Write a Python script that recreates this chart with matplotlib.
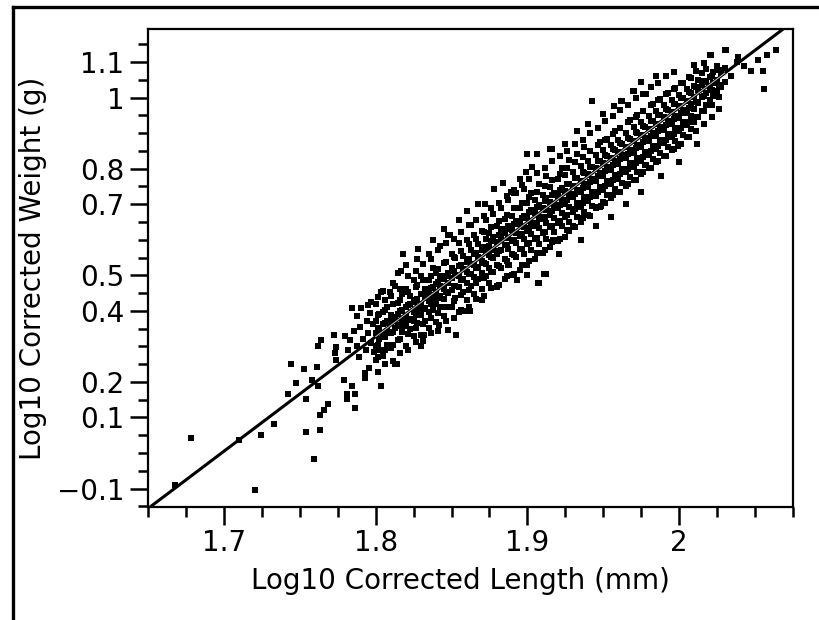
import matplotlib
matplotlib.use("Agg")
import matplotlib.pyplot as plt
from matplotlib.lines import Line2D
from matplotlib.ticker import MultipleLocator, FixedLocator

# fit line (log10 weight = a + b * log10 length)
fit_intercept = -5.476
fit_slope = 3.224

x_ticks = [1.7, 1.8, 1.9, 2.0]
x_labels = ["1.7", "1.8", "1.9", "2"]
y_ticks = [-0.1, 0.1, 0.2, 0.4, 0.5, 0.7, 0.8, 1.0, 1.1]
y_labels = ["\u22120.1", "0.1", "0.2", "0.4", "0.5", "0.7", "0.8", "1", "1.1"]

# sparse points at the small end
sparse_low = [
    (1.6676, -0.091), (1.6781, 0.043), (1.7098, 0.036), (1.7207, -0.104), (1.7247, 0.052),
    (1.7331, 0.082), (1.7423, 0.167), (1.7441, 0.249), (1.7478, 0.196), (1.7528, 0.235),
    (1.7544, 0.151), (1.7544, 0.059), (1.7581, 0.205), (1.7594, -0.016), (1.7616, 0.241),
    (1.7621, 0.188), (1.7621, 0.300), (1.7632, 0.106), (1.7634, 0.066), (1.7638, 0.317),
    (1.7660, 0.121), (1.7687, 0.137), (1.7724, 0.333), (1.7731, 0.282), (1.7741, 0.299),
    (1.7741, 0.263), (1.7792, 0.205), (1.7814, 0.165), (1.7814, 0.151), (1.7845, 0.188),
    (1.7862, 0.165), (1.7862, 0.127), (1.7845, 0.408), (1.7906, 0.408), (1.7950, 0.417),
    (1.7968, 0.424), (1.7928, 0.226), (1.7959, 0.240), (1.7928, 0.212),
    (1.7800, 0.330), (1.7830, 0.318), (1.7860, 0.342), (1.7880, 0.300), (1.7900, 0.355),
    (1.7915, 0.322), (1.7935, 0.290), (1.7950, 0.338), (1.7970, 0.310), (1.7985, 0.362),
    (1.7890, 0.270), (1.7940, 0.372), (1.7820, 0.290), (1.7990, 0.285), (1.7965, 0.395),
    (1.7880, 0.385), (1.8038, 0.452), (1.8093, 0.452), (1.8038, 0.188), (1.8143, 0.249),
    (1.8170, 0.511),
]

# dense band, one row per length value: (x, y, y, ...)
band_a = [
    (1.8000, .262, .301, .338, .371, .418),
    (1.8025, .289, .322, .350, .392),
    (1.8050, .274, .331, .362, .398, .455),
    (1.8075, .305, .344, .371, .412),
    (1.8100, .296, .338, .367, .389, .441),
    (1.8125, .249, .352, .380, .470),
    (1.8150, .318, .361, .392, .421, .506),
    (1.8175, .340, .372, .401, .448),
    (1.8200, .301, .357, .385, .410, .462, .530),
    (1.8225, .348, .378, .418, .441),
    (1.8250, .329, .370, .396, .425, .487),
    (1.8275, .365, .402, .433, .472, .545),
    (1.8300, .333, .388, .415, .446, .499),
    (1.8325, .372, .409, .437, .461),
    (1.8350, .351, .396, .428, .452, .488, .560),
    (1.8375, .401, .437, .466, .521),
    (1.8400, .368, .418, .449, .475, .506),
    (1.8425, .410, .442, .470, .498, .582),
    (1.8450, .385, .432, .461, .489, .535),
    (1.8475, .347, .449, .478, .506, .612),
    (1.8500, .412, .458, .492, .520, .561),
    (1.8525, .437, .471, .502, .548),
    (1.8550, .398, .466, .497, .525, .590),
    (1.8575, .452, .489, .517, .553),
    (1.8600, .431, .478, .510, .538, .600),
    (1.8625, .469, .503, .533, .571, .642),
    (1.8650, .448, .495, .528, .559, .612),
    (1.8675, .490, .522, .552, .588, .700),
    (1.8700, .462, .507, .541, .570, .625),
]

band_b = [
    (1.8725, .498, .533, .566, .601, .655),
    (1.8750, .478, .521, .557, .583, .620),
    (1.8775, .510, .548, .572, .609, .672),
    (1.8800, .468, .530, .561, .594, .638),
    (1.8825, .521, .570, .602, .631, .690),
    (1.8850, .489, .547, .585, .618, .659),
    (1.8875, .530, .575, .604, .640, .712),
    (1.8900, .502, .560, .596, .628, .668),
    (1.8925, .551, .590, .619, .653, .731),
    (1.8950, .515, .574, .611, .645, .689),
    (1.8975, .560, .603, .636, .668, .744),
    (1.9000, .528, .588, .625, .661, .702, .842),
    (1.9025, .571, .617, .648, .684, .731),
    (1.9050, .545, .601, .640, .676, .712),
    (1.9075, .478, .589, .633, .665, .699, .758),
    (1.9100, .562, .620, .659, .690, .726),
    (1.9125, .505, .601, .648, .684, .717, .779),
    (1.9150, .580, .635, .671, .705, .748, .855),
    (1.9175, .600, .621, .662, .697, .731),
    (1.9200, .596, .648, .688, .722, .771),
    (1.9225, .640, .676, .713, .746, .803),
    (1.9250, .609, .664, .700, .737, .782),
    (1.9275, .626, .651, .691, .729, .758, .823),
    (1.9300, .638, .679, .719, .750, .791),
    (1.9325, .665, .704, .741, .773, .842),
    (1.9350, .649, .693, .734, .766, .808),
    (1.9375, .678, .720, .758, .789, .861),
    (1.9400, .671, .708, .749, .785, .822),
    (1.9425, .695, .735, .772, .804),
    (1.9450, .690, .724, .766, .801, .838),
    (1.9475, .692, .748, .789, .821, .875),
    (1.9500, .706, .741, .780, .816, .853),
]

band_c = [
    (1.9525, .727, .766, .805, .836, .884),
    (1.9550, .718, .758, .797, .831, .868),
    (1.9575, .744, .781, .822, .852, .905),
    (1.9600, .733, .772, .813, .846, .880),
    (1.9625, .759, .798, .838, .869, .991),
    (1.9650, .750, .790, .829, .862, .899),
    (1.9675, .776, .815, .852, .884, .938),
    (1.9700, .768, .806, .845, .878, .916, 1.019),
    (1.9725, .792, .831, .868, .901, .950),
    (1.9750, .784, .822, .860, .894, .932),
    (1.9775, .811, .848, .885, .918, 1.010),
    (1.9800, .801, .839, .877, .912, .948),
    (1.9825, .828, .864, .900, .934, .981),
    (1.9850, .818, .855, .893, .927, .962),
    (1.9875, .845, .881, .918, .950, .995),
    (1.9900, .836, .872, .910, .944, .978),
    (1.9925, .862, .898, .933, .966, 1.012),
    (1.9950, .853, .890, .926, .960, .993),
    (1.9975, .878, .914, .949, .982, 1.028),
    (2.0000, .870, .906, .942, .975, 1.008),
    (2.0025, .895, .931, .966, .998, 1.041),
    (2.0050, .889, .922, .958, .991, 1.024),
    (2.0075, .913, .948, .982, 1.014, 1.055),
    (2.0100, .930, .968, 1.001, 1.033, 1.092),
    (2.0125, .945, .986, 1.020, 1.049),
    (2.0150, .961, 1.002, 1.035, 1.070),
    (2.0175, .978, 1.012, 1.044, 1.081),
    (2.0200, .992, 1.026, 1.058, 1.120),
    (2.0225, 1.004, 1.040, 1.072),
    (2.0250, 1.018, 1.050, 1.088),
    (2.0275, 1.030, 1.068),
    (2.0300, 1.044, 1.082, 1.135),
]

# second, wider layer of the band
band_wide = [
    (1.8013, .228, .270, .305, .352, .389, .440),
    (1.8063, .251, .290, .326, .366, .402, .431),
    (1.8113, .258, .305, .341, .383, .418, .478),
    (1.8163, .281, .322, .356, .399, .431, .462),
    (1.8213, .290, .336, .374, .415, .452, .499),
    (1.8263, .312, .351, .389, .430, .466, .512),
    (1.8313, .315, .362, .404, .447, .488, .531),
    (1.8363, .339, .381, .420, .463, .499, .545),
    (1.8413, .342, .393, .437, .480, .519, .571),
    (1.8463, .371, .412, .452, .497, .538, .590),
    (1.8513, .380, .428, .470, .512, .551, .603),
    (1.8563, .401, .445, .486, .530, .569, .622),
    (1.8613, .412, .460, .503, .547, .588, .641),
    (1.8663, .433, .478, .520, .563, .601, .655),
    (1.8713, .441, .492, .535, .580, .622, .668),
    (1.8763, .465, .510, .551, .596, .637, .690),
    (1.8813, .472, .525, .567, .612, .653, .702),
    (1.8863, .498, .541, .584, .629, .671, .722),
    (1.8913, .505, .557, .600, .645, .688, .741),
    (1.8963, .530, .575, .617, .661, .702, .755),
    (1.9013, .541, .590, .633, .677, .720, .770),
    (1.9063, .562, .606, .648, .693, .735, .788),
    (1.9113, .572, .622, .664, .710, .752, .801),
    (1.9163, .595, .639, .681, .726, .768, .822),
    (1.9213, .603, .654, .697, .741, .785, .835),
    (1.9263, .628, .671, .713, .758, .801, .850),
    (1.9313, .636, .687, .729, .774, .818, .869),
    (1.9363, .660, .703, .745, .790, .834, .882),
    (1.9413, .668, .719, .762, .806, .851, .900),
    (1.9463, .693, .735, .778, .822, .866, .914),
    (1.9513, .702, .751, .794, .838, .882, .935),
    (1.9563, .725, .768, .810, .855, .898, .947),
    (1.9613, .735, .784, .826, .871, .915, .966),
    (1.9663, .758, .800, .842, .887, .931, .979),
    (1.9713, .768, .816, .858, .903, .946, 1.000),
    (1.9763, .790, .833, .875, .919, .962, 1.011),
    (1.9813, .801, .849, .891, .935, .978, 1.031),
    (1.9863, .822, .865, .907, .951, .994, 1.042),
    (1.9913, .835, .881, .923, .967, 1.010, 1.060),
    (1.9963, .856, .898, .940, .983, 1.025, 1.071),
    (2.0013, .870, .914, .956, .999, 1.040),
    (2.0063, .889, .930, .972, 1.015, 1.058),
    (2.0113, .905, .946, .988, 1.031, 1.074),
    (2.0163, .925, .962, 1.004, 1.047, 1.096),
    (2.0213, .945, .978, 1.020, 1.062),
    (2.0263, .968, 1.001, 1.036, 1.079),
]

# ragged edges of the band
band_edges = [
    (1.8720, 0.700), (1.8780, 0.742), (1.8840, 0.760), (1.8890, 0.735), (1.8950, 0.772),
    (1.8990, 0.790), (1.9030, 0.805), (1.8600, 0.680), (1.8550, 0.655), (1.8450, 0.630),
    (1.8380, 0.600), (1.8280, 0.575), (1.8180, 0.560), (1.9250, 0.870), (1.9330, 0.905),
    (1.9400, 0.925), (1.9500, 0.955), (1.9570, 0.975), (1.9750, 1.045), (1.9850, 1.060),
    (1.8800, 0.470), (1.8930, 0.488), (1.9000, 0.500), (1.9210, 0.560), (1.9350, 0.600),
    (1.9450, 0.640), (1.9550, 0.665), (1.9650, 0.700), (1.9750, 0.735), (1.9880, 0.780),
    (2.0000, 0.820), (2.0120, 0.870), (1.8700, 0.430), (1.8580, 0.400), (1.8420, 0.360),
    (1.8300, 0.300),
]

# scattered points off the band and at the large end
outliers = [
    (1.8530, 0.333), (1.8620, 0.399), (1.8320, 0.333), (1.8490, 0.614), (1.8673, 0.700),
    (1.8880, 0.530), (1.9070, 0.478), (1.9110, 0.505), (1.9170, 0.600), (1.9277, 0.626),
    (1.9060, 0.842), (1.9160, 0.855), (1.8910, 0.731), (1.9486, 0.694), (1.9424, 0.989),
    (1.9694, 1.019), (1.9780, 1.010), (1.9618, 0.991), (1.9780, 0.811), (1.9990, 0.863),
    (2.0210, 1.120), (2.0310, 1.135), (2.0340, 1.060), (2.0380, 1.099), (2.0390, 1.113),
    (2.0430, 1.090), (2.0470, 1.076), (2.0520, 1.106), (2.0550, 1.076), (2.0560, 1.024),
    (2.0580, 1.120), (2.0640, 1.135),
]

xs, ys = [], []
for px, py in sparse_low + band_edges + outliers:
    xs.append(px)
    ys.append(py)
for row in band_a + band_b + band_c + band_wide:
    for py in row[1:]:
        xs.append(row[0])
        ys.append(py)

plt.rcParams["font.family"] = ["DejaVu Sans"]

fig = plt.figure(figsize=(8.19, 6.2), dpi=100)
ax = fig.add_axes([148 / 819, 1 - 507 / 620, 645 / 819, 478 / 620])

ax.set_xlim(1.65, 2.075)
ax.set_ylim(-0.152, 1.193)

x0, x1 = ax.get_xlim()
ax.plot([x0, x1], [fit_intercept + fit_slope * x0, fit_intercept + fit_slope * x1],
        color="black", lw=2.2, zorder=2, solid_capstyle="butt")
ax.scatter(xs, ys, marker="s", s=20, color="black", linewidths=0, zorder=3)
bx0 = band_a[0][0]
bx1 = band_c[-1][0]
ax.plot([bx0, bx1], [fit_intercept + fit_slope * bx0, fit_intercept + fit_slope * bx1],
        color="#c4c4c4", lw=0.7, zorder=4)

ax.xaxis.set_major_locator(FixedLocator(x_ticks))
ax.set_xticklabels(x_labels)
ax.xaxis.set_minor_locator(MultipleLocator(0.025))
ax.yaxis.set_major_locator(FixedLocator(y_ticks))
ax.set_yticklabels(y_labels)
ax.yaxis.set_minor_locator(MultipleLocator(0.05))

ax.tick_params(which="major", direction="out", length=13, width=1.8, labelsize=20, color="black")
ax.tick_params(which="minor", direction="out", length=7, width=1.8, color="black")
ax.tick_params(axis="x", which="major", pad=3)
ax.tick_params(axis="y", which="major", pad=4)

for sp in ax.spines.values():
    sp.set_linewidth(1.6)

ax.set_xlabel("Log10 Corrected Length (mm)", fontsize=20)
ax.set_ylabel("Log10 Corrected Weight (g)", fontsize=20)
ax.xaxis.set_label_coords(0.484, -0.125)
ax.yaxis.set_label_coords(-0.157, 0.5)

# outer frame lines (top and left)
fig.add_artist(Line2D([13 / 819, 1.0], [1 - 7 / 620, 1 - 7 / 620], color="black", lw=2.4))
fig.add_artist(Line2D([13 / 819, 13 / 819], [0.0, 1 - 7 / 620], color="black", lw=2.4))

fig.savefig("out.png", dpi=100)
